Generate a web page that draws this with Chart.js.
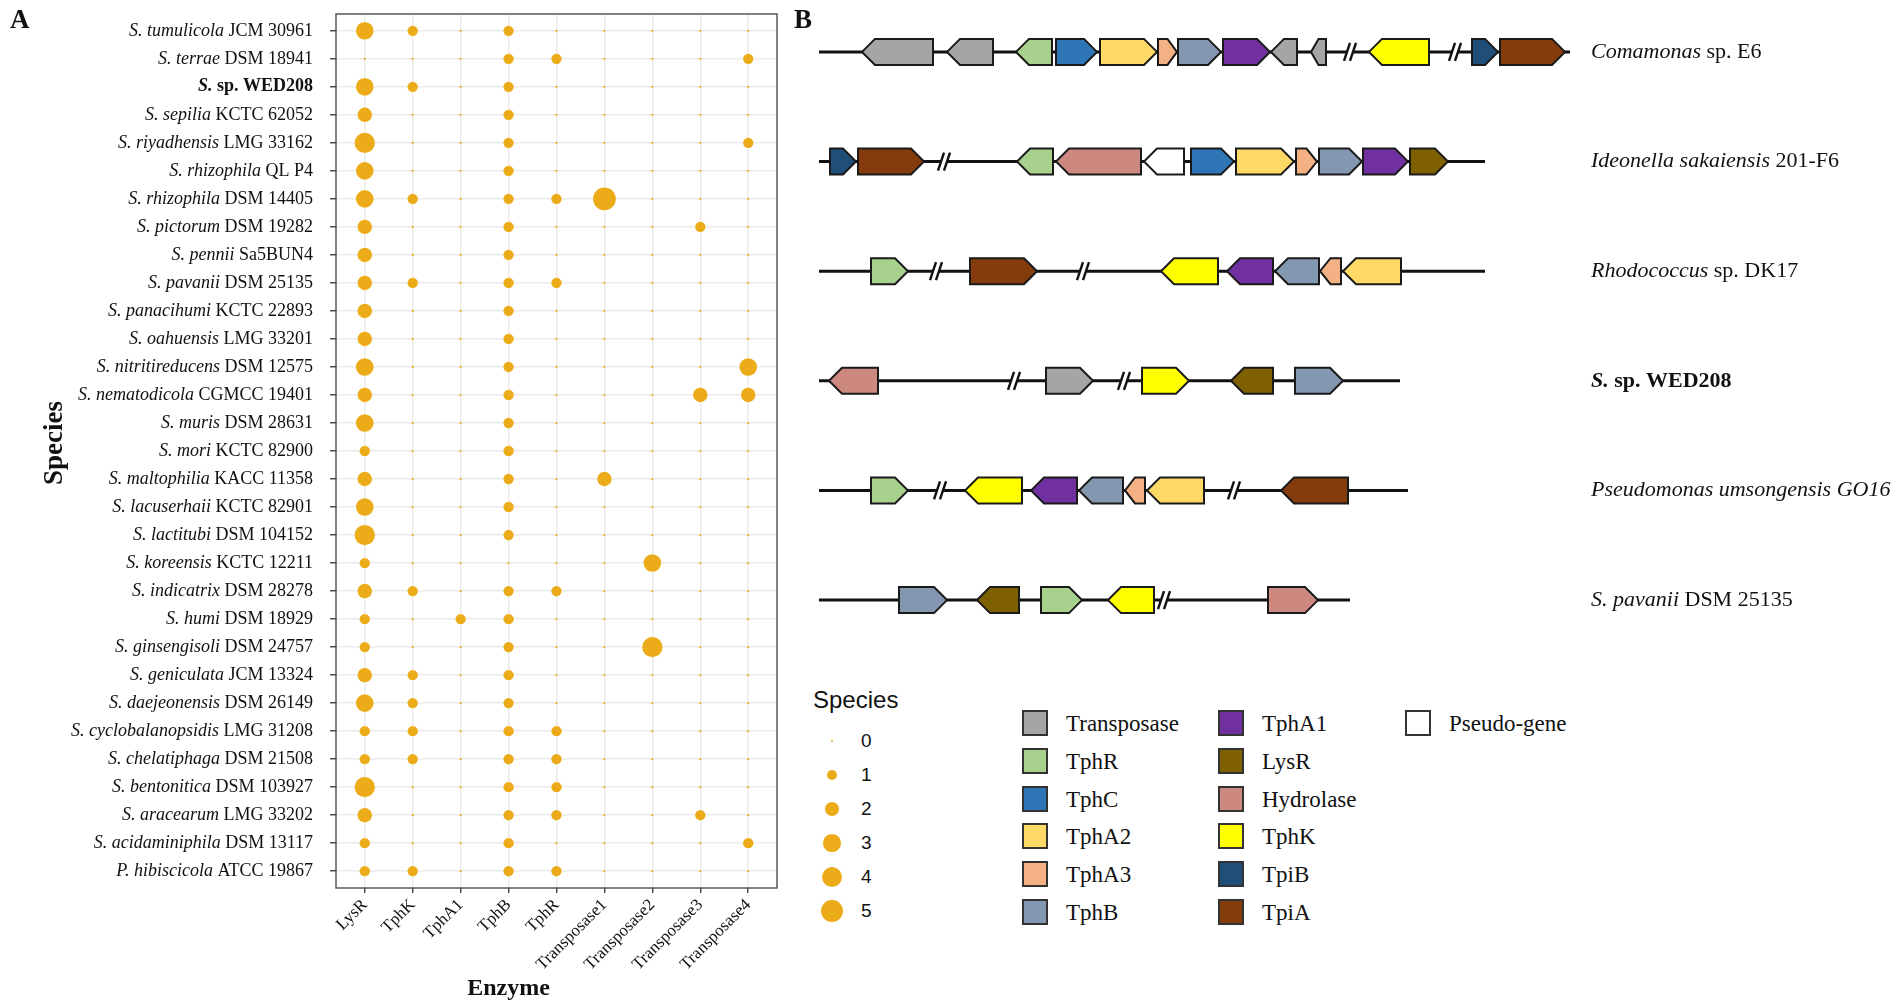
<!DOCTYPE html>
<html>
<head>
<meta charset="utf-8">
<script src="https://cdn.jsdelivr.net/npm/chart.js@4.4.1/dist/chart.umd.min.js"></script>
<style>
html,body{margin:0;padding:0;background:#fff;}
body{width:1902px;height:1006px;position:relative;overflow:hidden;font-family:"Liberation Serif",serif;color:#111;}
canvas{position:absolute;top:0;}
#cA{left:0;}
#cB{left:800px;}
.pl{position:absolute;font-weight:bold;font-family:"Liberation Serif",serif;font-size:27px;line-height:1;}
.sw{position:absolute;width:22px;height:22px;border:2px solid #333;box-sizing:content-box;}
.lt{position:absolute;font-family:"Liberation Serif",serif;font-size:23px;line-height:1;white-space:nowrap;}
.st{position:absolute;font-family:"Liberation Sans",Arial,sans-serif;white-space:nowrap;line-height:1;}
.dot{position:absolute;border-radius:50%;background:#ECAC1A;}
</style>
</head>
<body>
<canvas id="cA" width="790" height="1006"></canvas>
<canvas id="cB" width="1102" height="680"></canvas>
<div class="pl" style="left:10px;top:6px;">A</div>
<div class="pl" style="left:794px;top:6px;">B</div>
<div id="legends"></div>
<script>
// ---------------- Panel A data ----------------
const enzymes = ['LysR','TphK','TphA1','TphB','TphR','Transposase1','Transposase2','Transposase3','Transposase4'];
const speciesName = ['S. tumulicola','S. terrae','S.','S. sepilia','S. riyadhensis','S. rhizophila','S. rhizophila','S. pictorum','S. pennii','S. pavanii','S. panacihumi','S. oahuensis','S. nitritireducens','S. nematodicola','S. muris','S. mori','S. maltophilia','S. lacuserhaii','S. lactitubi','S. koreensis','S. indicatrix','S. humi','S. ginsengisoli','S. geniculata','S. daejeonensis','S. cyclobalanopsidis','S. chelatiphaga','S. bentonitica','S. aracearum','S. acidaminiphila','P. hibiscicola'];
const speciesStrain = ['JCM 30961','DSM 18941','sp. WED208','KCTC 62052','LMG 33162','QL P4','DSM 14405','DSM 19282','Sa5BUN4','DSM 25135','KCTC 22893','LMG 33201','DSM 12575','CGMCC 19401','DSM 28631','KCTC 82900','KACC 11358','KCTC 82901','DSM 104152','KCTC 12211','DSM 28278','DSM 18929','DSM 24757','JCM 13324','DSM 26149','LMG 31208','DSM 21508','DSM 103927','LMG 33202','DSM 13117','ATCC 19867'];
const highlightRow = 2;

const countLysR  = [3,0,3,2,4,3,3,2,2,2,2,2,3,2,3,1,2,3,4,1,2,1,1,2,3,1,1,4,2,1,1];
const countTphK  = [1,0,1,0,0,0,1,0,0,1,0,0,0,0,0,0,0,0,0,0,1,0,0,1,1,1,1,0,0,0,1];
const countTphA1 = [0,0,0,0,0,0,0,0,0,0,0,0,0,0,0,0,0,0,0,0,0,1,0,0,0,0,0,0,0,0,0];
const countTphB  = [1,1,1,1,1,1,1,1,1,1,1,1,1,1,1,1,1,1,1,0,1,1,1,1,1,1,1,1,1,1,1];
const countTphR  = [0,1,0,0,0,0,1,0,0,1,0,0,0,0,0,0,0,0,0,0,1,0,0,0,0,1,1,1,1,0,1];
const countTp1   = [0,0,0,0,0,0,5,0,0,0,0,0,0,0,0,0,2,0,0,0,0,0,0,0,0,0,0,0,0,0,0];
const countTp2   = [0,0,0,0,0,0,0,0,0,0,0,0,0,0,0,0,0,0,0,3,0,0,4,0,0,0,0,0,0,0,0];
const countTp3   = [0,0,0,0,0,0,0,1,0,0,0,0,0,2,0,0,0,0,0,0,0,0,0,0,0,0,0,0,1,0,0];
const countTp4   = [0,1,0,0,1,0,0,0,0,0,0,0,3,2,0,0,0,0,0,0,0,0,0,0,0,0,0,0,0,1,0];
const sizeBreaks = [0,1,2,3,4,5];

// ---------------- Panel B data ----------------
const geneTypes = ['Transposase','TphR','TphC','TphA2','TphA3','TphB','TphA1','LysR','Hydrolase','TphK','TpiB','TpiA','Pseudo-gene'];
const locusItalic = ['Comamonas','Ideonella sakaiensis','Rhodococcus','S.','Pseudomonas umsongensis GO16','S. pavanii'];
const locusPlain  = [' sp. E6',' 201-F6',' sp. DK17',' sp. WED208','',' DSM 25135'];
const locusLength = [75.1, 66.6, 66.6, 58.1, 58.9, 53.1];
const locusBreaks = [[53.1,63.6],[12.5],[11.7,26.4],[19.5,30.5],[12.1,41.5],[34.5]];
// [type, start, end, strand]
const genesComamonas = [['Transposase',4.3,11.4,-1],['Transposase',12.8,17.4,-1],['TphR',19.7,23.3,-1],['TphC',23.7,27.8,1],['TphA2',28.1,33.8,1],['TphA3',33.9,35.8,1],['TphB',35.9,40.2,1],['TphA1',40.4,45.1,1],['Transposase',45.2,47.8,-1],['Transposase',49.2,50.7,-1],['TphK',55.0,61.0,-1],['TpiB',65.3,67.9,1],['TpiA',68.1,74.6,1]];
const genesIdeonella = [['TpiB',1.1,3.7,1],['TpiA',3.9,10.5,1],['TphR',19.8,23.4,-1],['Hydrolase',23.7,32.2,-1],['Pseudo-gene',32.5,36.5,-1],['TphC',37.2,41.5,1],['TphA2',41.7,47.5,1],['TphA3',47.7,49.8,1],['TphB',50.0,54.3,1],['TphA1',54.4,58.9,1],['LysR',59.1,62.9,1]];
const genesRhodococcus = [['TphR',5.2,8.9,1],['TpiA',15.1,21.8,1],['TphK',34.2,39.9,-1],['TphA1',40.8,45.4,-1],['TphB',45.6,50.0,-1],['TphA3',50.1,52.2,-1],['TphA2',52.4,58.2,-1]];
const genesWED208 = [['Hydrolase',1.0,5.9,-1],['Transposase',22.7,27.4,1],['TphK',32.3,37.0,1],['LysR',41.2,45.4,-1],['TphB',47.6,52.4,1]];
const genesPseudomonas = [['TphR',5.2,8.9,1],['TphK',14.6,20.3,-1],['TphA1',21.2,25.8,-1],['TphB',26.0,30.4,-1],['TphA3',30.6,32.6,-1],['TphA2',32.8,38.5,-1],['TpiA',46.2,52.9,-1]];
const genesPavanii = [['TphB',8.0,12.8,1],['LysR',15.8,20.0,-1],['TphR',22.2,26.3,1],['TphK',28.9,33.5,-1],['Hydrolase',44.9,49.9,1]];
const locusGenes = [genesComamonas, genesIdeonella, genesRhodococcus, genesWED208, genesPseudomonas, genesPavanii];

// ---------------- styles ----------------
const geneColors = {'Transposase':'#A5A5A5','TphR':'#A9D18E','TphC':'#2E75B6','TphA2':'#FFD966','TphA3':'#F4B183','TphB':'#8497B0','TphA1':'#7030A0','LysR':'#7F6000','Hydrolase':'#CD8880','TphK':'#FFFF00','TpiB':'#1F4E79','TpiA':'#843C0C','Pseudo-gene':'#FFFFFF'};
const dotColor = '#ECAC1A';
const SERIF = '"Liberation Serif", "Times New Roman", serif';
const SANS = '"Liberation Sans", Arial, sans-serif';
const radiusOf = v => Math.sqrt(1.2 + 25.5 * v);

// ---------------- Panel A chart ----------------
const columns = [countLysR,countTphK,countTphA1,countTphB,countTphR,countTp1,countTp2,countTp3,countTp4];
const bubbleData = [];
columns.forEach((col, j) => col.forEach((v, i) => bubbleData.push({x: j, y: i, r: radiusOf(v), v})));

const panelAPlugin = {
  id: 'panelA',
  afterDraw(chart) {
    const {ctx, chartArea: a, scales: {y}} = chart;
    ctx.save();
    ctx.strokeStyle = '#4d4d4d'; ctx.lineWidth = 1.4;
    ctx.strokeRect(a.left, a.top, a.right - a.left, a.bottom - a.top);
    ctx.textBaseline = 'middle'; ctx.textAlign = 'left'; ctx.fillStyle = '#111';
    speciesName.forEach((nm, i) => {
      const py = y.getPixelForValue(i);
      const b = i === highlightRow ? 'bold ' : '';
      const f1 = 'italic ' + b + '18px ' + SERIF, f2 = b + '18px ' + SERIF;
      const rest = ' ' + speciesStrain[i];
      ctx.font = f2; const w2 = ctx.measureText(rest).width;
      ctx.font = f1; const w1 = ctx.measureText(nm).width;
      const xr = a.left - 23;
      ctx.fillText(nm, xr - w1 - w2, py);
      ctx.font = f2; ctx.fillText(rest, xr - w2, py);
    });
    // axis titles
    ctx.font = 'bold 27px ' + SERIF; ctx.textAlign = 'center';
    ctx.save(); ctx.translate(55, (a.top + a.bottom) / 2 - 8); ctx.rotate(-Math.PI / 2);
    ctx.fillText('Species', 0, 0); ctx.restore();
    ctx.font = 'bold 24px ' + SERIF;
    ctx.fillText('Enzyme', chart.scales.x.getPixelForValue(3), 989);
    ctx.restore();
  }
};

new Chart(document.getElementById('cA'), {
  type: 'bubble',
  data: {datasets: [{data: bubbleData, backgroundColor: dotColor, borderWidth: 0, hoverRadius: 0}]},
  options: {
    responsive: false, animation: false, events: [],
    layout: {padding: {top: 14, right: 13, left: 0, bottom: 0}},
    plugins: {legend: {display: false}, tooltip: {enabled: false}},
    scales: {
      x: {
        type: 'linear', min: -0.6, max: enzymes.length - 0.4,
        afterBuildTicks: s => { s.ticks = enzymes.map((_, i) => ({value: i})); },
        afterFit: s => { s.height = 118; },
        ticks: {callback: v => enzymes[v], autoSkip: false, minRotation: 45, maxRotation: 45,
                font: {family: SERIF, size: 17}, color: '#111', padding: 2},
        grid: {color: '#EBEBEB', lineWidth: 1.5, tickLength: 5, tickColor: '#333', tickWidth: 1.3},
        border: {display: false}
      },
      y: {
        type: 'linear', reverse: true, min: -0.6, max: speciesName.length - 0.4,
        afterBuildTicks: s => { s.ticks = speciesName.map((_, i) => ({value: i})); },
        afterFit: s => { s.width = 336; },
        ticks: {callback: () => '', autoSkip: false},
        grid: {color: '#EBEBEB', lineWidth: 1.5, tickLength: 6, tickColor: '#333', tickWidth: 1.3},
        border: {display: false}
      }
    }
  },
  plugins: [panelAPlugin]
});

// ---------------- Panel B chart ----------------
const backbone = locusLength.map((len, i) => ({
  data: [{x: 0, y: i}, {x: len, y: i}], showLine: true, borderColor: '#111', borderWidth: 3,
  pointRadius: 0, fill: false
}));

const genePlugin = {
  id: 'genes',
  afterDatasetsDraw(chart) {
    const {ctx, scales: {x, y}} = chart;
    const h = 13;
    ctx.save();
    locusBreaks.forEach((arr, row) => arr.forEach(pos => {
      const px = x.getPixelForValue(pos), py = y.getPixelForValue(row);
      ctx.fillStyle = '#fff'; ctx.fillRect(px - 3, py - 3, 6, 6);
      ctx.strokeStyle = '#111'; ctx.lineWidth = 2.4;
      [-3, 3].forEach(d => { ctx.beginPath(); ctx.moveTo(px + d - 3, py + 9); ctx.lineTo(px + d + 3, py - 9); ctx.stroke(); });
    }));
    ctx.lineJoin = 'miter';
    locusGenes.forEach((list, row) => list.forEach(([type, s, e, dir]) => {
      const x1 = x.getPixelForValue(s), x2 = x.getPixelForValue(e), py = y.getPixelForValue(row);
      const hd = Math.min(13, (x2 - x1) * 0.5);
      ctx.beginPath();
      if (dir > 0) {
        ctx.moveTo(x1, py - h); ctx.lineTo(x2 - hd, py - h); ctx.lineTo(x2, py); ctx.lineTo(x2 - hd, py + h); ctx.lineTo(x1, py + h);
      } else {
        ctx.moveTo(x2, py - h); ctx.lineTo(x1 + hd, py - h); ctx.lineTo(x1, py); ctx.lineTo(x1 + hd, py + h); ctx.lineTo(x2, py + h);
      }
      ctx.closePath();
      ctx.fillStyle = geneColors[type]; ctx.fill();
      ctx.strokeStyle = '#1a1a1a'; ctx.lineWidth = 2; ctx.stroke();
    }));
    // locus labels
    ctx.textBaseline = 'middle'; ctx.textAlign = 'left'; ctx.fillStyle = '#111';
    locusItalic.forEach((nm, row) => {
      const py = y.getPixelForValue(row);
      const b = row === 3 ? 'bold ' : '';
      const lx = 791;
      ctx.font = 'italic ' + b + '22px ' + SERIF;
      ctx.fillText(nm, lx, py);
      const w = ctx.measureText(nm).width;
      ctx.font = b + '22px ' + SERIF;
      ctx.fillText(locusPlain[row], lx + w, py);
    });
    ctx.restore();
  }
};

new Chart(document.getElementById('cB'), {
  type: 'scatter',
  data: {datasets: backbone},
  options: {
    responsive: false, animation: false, events: [],
    layout: {padding: {top: 19, bottom: 47, left: 19, right: 83}},
    plugins: {legend: {display: false}, tooltip: {enabled: false}},
    scales: {
      x: {type: 'linear', min: 0, max: 100, display: false},
      y: {type: 'linear', min: -0.3, max: locusItalic.length - 0.7, reverse: true, display: false}
    }
  },
  plugins: [genePlugin]
});

// ---------------- Legends ----------------
const leg = document.getElementById('legends');
function el(cls, css, txt) { const d = document.createElement('div'); d.className = cls; d.style.cssText = css; if (txt !== undefined) d.textContent = txt; leg.appendChild(d); return d; }
el('st', 'left:813px;top:688px;font-size:24px;', 'Species');
sizeBreaks.forEach((v, k) => {
  const cy = 741 + k * 34, r = radiusOf(v);
  el('dot', `left:${832 - r}px;top:${cy - r}px;width:${2 * r}px;height:${2 * r}px;`);
  el('st', `left:861px;top:${cy - 10}px;font-size:19px;`, String(v));
});
const legendCols = [geneTypes.slice(0, 6), geneTypes.slice(6, 12), geneTypes.slice(12)];
const colX = [1022, 1218, 1405];
legendCols.forEach((col, c) => col.forEach((t, k) => {
  const cy = 723 + k * 37.8;
  el('sw', `left:${colX[c]}px;top:${cy - 13}px;background:${geneColors[t]};`);
  el('lt', `left:${colX[c] + 44}px;top:${cy - 11}px;`, t);
}));
</script>
</body>
</html>
